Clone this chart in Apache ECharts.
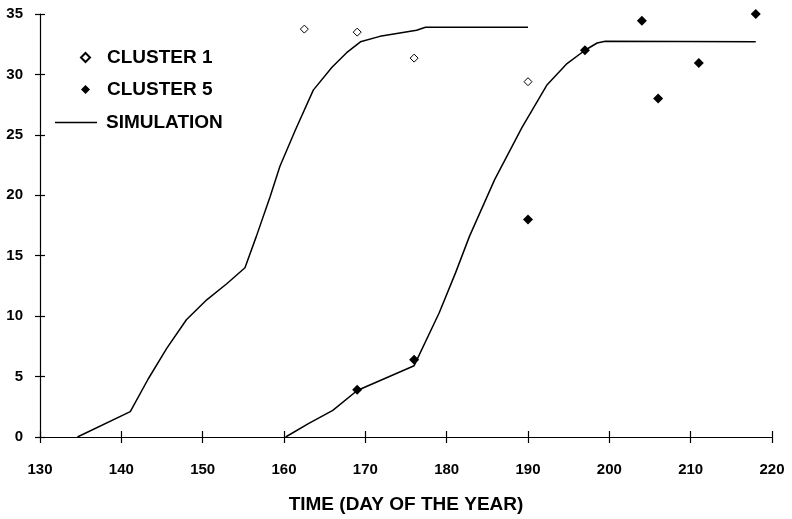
<!DOCTYPE html>
<html>
<head>
<meta charset="utf-8">
<script src="https://cdn.jsdelivr.net/npm/echarts@6/dist/echarts.min.js"></script>
<style>
  html, body { margin: 0; padding: 0; background: #fff; }
  #chart { width: 792px; height: 519px; }
</style>
</head>
<body>
<div id="chart"></div>
<script>
// simulation curves (day, value)
var sim1Days = [134.6, 141.1, 143.3, 145.6, 148.0, 150.5, 153.0, 155.2, 156.6, 158.3, 159.5, 161.4, 163.6, 165.9, 167.7, 169.4, 171.8, 176.3, 177.4, 190];
var sim1Vals = [0, 2.1, 4.8, 7.35, 9.7, 11.35, 12.7, 14.0, 16.6, 19.9, 22.4, 25.4, 28.7, 30.6, 31.8, 32.7, 33.15, 33.65, 33.9, 33.9];
var sim2Days = [160.2, 163, 166, 169, 176, 179.1, 181.1, 182.8, 185.9, 189.25, 192.3, 194.8, 197, 198.5, 199.5, 218];
var sim2Vals = [0, 1.1, 2.2, 3.85, 5.9, 10.3, 13.6, 16.6, 21.3, 25.6, 29.1, 30.9, 32.0, 32.6, 32.75, 32.7];

// observations
var cluster1Days = [162.5, 169, 176, 190];
var cluster1Vals = [33.75, 33.5, 31.35, 29.4];
var cluster5Days = [169, 176, 190, 197, 204, 206, 211, 218];
var cluster5Vals = [3.9, 6.4, 18.0, 32.0, 34.45, 28.0, 30.95, 35.0];

var xTicks = [130, 220, 10];
var yTicks = [0, 35, 5];

function pairs(xs, ys) {
  return xs.map(function (x, i) { return [x, ys[i]]; });
}

var font = '"Liberation Sans", Arial, Helvetica, sans-serif';
var labelStyle = { fontFamily: font, fontSize: 15, fontWeight: 'bold', color: '#000' };
var legendText = { fontFamily: font, fontSize: 19, fontWeight: 'bold', color: '#000' };

var chart = echarts.init(document.getElementById('chart'), null, { renderer: 'canvas' });

var option = {
  backgroundColor: '#fff',
  animation: false,
  grid: { left: 40, right: 20, top: 14, bottom: 82, containLabel: false },
  legend: [{
    data: ['CLUSTER 1', 'CLUSTER 5'],
    orient: 'vertical',
    left: 75,
    top: 43,
    itemWidth: 9,
    itemHeight: 9,
    itemGap: 13,
    selectedMode: false,
    textStyle: Object.assign({ padding: [0, 0, 0, 12] }, legendText)
  }, {
    data: [{ name: 'SIMULATION', icon: 'rect' }],
    left: 50,
    top: 108,
    itemWidth: 42,
    itemHeight: 1.5,
    selectedMode: false,
    itemStyle: { color: '#000' },
    textStyle: Object.assign({ padding: [0, 0, 0, 4] }, legendText)
  }],
  xAxis: [{
    type: 'value',
    min: xTicks[0],
    max: xTicks[1],
    interval: xTicks[2],
    axisLine: { lineStyle: { color: '#000', width: 1.2 } },
    axisTick: { length: 6, lineStyle: { color: '#000', width: 1.2 } },
    axisLabel: Object.assign({ margin: 25 }, labelStyle),
    splitLine: { show: false },
    name: 'TIME (DAY OF THE YEAR)',
    nameLocation: 'middle',
    nameGap: 58,
    nameTextStyle: { fontFamily: font, fontSize: 19, fontWeight: 'bold', color: '#000' }
  }, {
    type: 'value',
    position: 'bottom',
    min: xTicks[0],
    max: xTicks[1],
    interval: xTicks[2],
    axisLine: { show: false },
    axisTick: { inside: true, length: 6, lineStyle: { color: '#000', width: 1.2 } },
    axisLabel: { show: false },
    splitLine: { show: false }
  }],
  yAxis: [{
    type: 'value',
    min: yTicks[0],
    max: yTicks[1],
    interval: yTicks[2],
    axisLine: { show: true, lineStyle: { color: '#000', width: 1.2 } },
    axisTick: { show: true, length: 5, lineStyle: { color: '#000', width: 1.2 } },
    axisLabel: Object.assign({ margin: 17 }, labelStyle),
    splitLine: { show: false }
  }, {
    type: 'value',
    position: 'left',
    min: yTicks[0],
    max: yTicks[1],
    interval: yTicks[2],
    axisLine: { show: false },
    axisTick: { show: true, inside: true, length: 5, lineStyle: { color: '#000', width: 1.2 } },
    axisLabel: { show: false },
    splitLine: { show: false }
  }],
  series: [{
    name: 'SIMULATION',
    type: 'line',
    symbol: 'none',
    data: pairs(sim1Days, sim1Vals),
    lineStyle: { color: '#000', width: 1.5 },
    itemStyle: { color: '#000' },
    z: 2
  }, {
    name: 'SIMULATION',
    type: 'line',
    symbol: 'none',
    data: pairs(sim2Days, sim2Vals),
    lineStyle: { color: '#000', width: 1.5 },
    itemStyle: { color: '#000' },
    z: 2
  }, {
    name: 'CLUSTER 1',
    type: 'scatter',
    symbol: 'diamond',
    symbolSize: 8,
    clip: false,
    data: pairs(cluster1Days, cluster1Vals),
    itemStyle: { color: '#fff', borderColor: '#000', borderWidth: 1, opacity: 1 },
    z: 3
  }, {
    name: 'CLUSTER 5',
    type: 'scatter',
    symbol: 'diamond',
    symbolSize: 10,
    clip: false,
    data: pairs(cluster5Days, cluster5Vals),
    itemStyle: { color: '#000', opacity: 1 },
    z: 3
  }]
};

chart.setOption(option);
</script>
</body>
</html>
